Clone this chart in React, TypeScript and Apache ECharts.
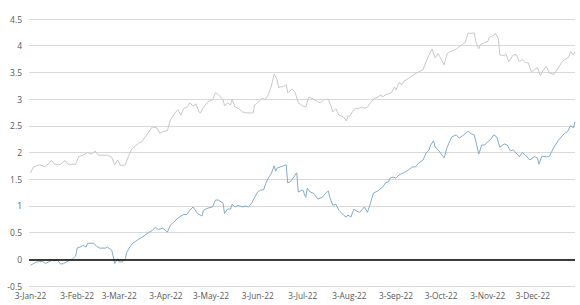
import React, { useEffect, useRef } from "react";
import * as echarts from "echarts";

const xTickDates = [
  "2022-01-03", "2022-02-03", "2022-03-03", "2022-04-03", "2022-05-03", "2022-06-03",
  "2022-07-03", "2022-08-03", "2022-09-03", "2022-10-03", "2022-11-03", "2022-12-03",
];
const xTickLabels = [
  "3-Jan-22", "3-Feb-22", "3-Mar-22", "3-Apr-22", "3-May-22", "3-Jun-22",
  "3-Jul-22", "3-Aug-22", "3-Sep-22", "3-Oct-22", "3-Nov-22", "3-Dec-22",
];

const grayDates = [
  "2022-01-03", "2022-01-05", "2022-01-09", "2022-01-13", "2022-01-15", "2022-01-17", "2022-01-19", "2022-01-23", "2022-01-26", "2022-01-28",
  "2022-02-02", "2022-02-04", "2022-02-07", "2022-02-10", "2022-02-13", "2022-02-15", "2022-02-17", "2022-02-23", "2022-02-26", "2022-02-28",
  "2022-03-02", "2022-03-04", "2022-03-07", "2022-03-09", "2022-03-11", "2022-03-12", "2022-03-16", "2022-03-18", "2022-03-22", "2022-03-25", "2022-03-28", "2022-03-30",
  "2022-04-01", "2022-04-04", "2022-04-06", "2022-04-09", "2022-04-11", "2022-04-13", "2022-04-15", "2022-04-17", "2022-04-19", "2022-04-21", "2022-04-23", "2022-04-25", "2022-04-26", "2022-04-28",
  "2022-05-01", "2022-05-04", "2022-05-06", "2022-05-08", "2022-05-11", "2022-05-12", "2022-05-14", "2022-05-16", "2022-05-17", "2022-05-19", "2022-05-21", "2022-05-24", "2022-05-27", "2022-05-31",
  "2022-06-01", "2022-06-03", "2022-06-06", "2022-06-08", "2022-06-10", "2022-06-12", "2022-06-14", "2022-06-16", "2022-06-17", "2022-06-18", "2022-06-20", "2022-06-22", "2022-06-23", "2022-06-26", "2022-06-28", "2022-06-30",
  "2022-07-03", "2022-07-05", "2022-07-07", "2022-07-10", "2022-07-13", "2022-07-15", "2022-07-17", "2022-07-20", "2022-07-22", "2022-07-23", "2022-07-25", "2022-07-27", "2022-07-30",
  "2022-08-01", "2022-08-02", "2022-08-03", "2022-08-05", "2022-08-07", "2022-08-09", "2022-08-11", "2022-08-13", "2022-08-15", "2022-08-17", "2022-08-19", "2022-08-22", "2022-08-24", "2022-08-25", "2022-08-27", "2022-08-31",
  "2022-09-02", "2022-09-03", "2022-09-05", "2022-09-07", "2022-09-08", "2022-09-12", "2022-09-15", "2022-09-18", "2022-09-21", "2022-09-23", "2022-09-25", "2022-09-27", "2022-09-29",
  "2022-10-01", "2022-10-03", "2022-10-05", "2022-10-07", "2022-10-09", "2022-10-11", "2022-10-13", "2022-10-15", "2022-10-17", "2022-10-19", "2022-10-21", "2022-10-22", "2022-10-25", "2022-10-26", "2022-10-28", "2022-10-29",
  "2022-11-01", "2022-11-03", "2022-11-04", "2022-11-07", "2022-11-08", "2022-11-10", "2022-11-11", "2022-11-14", "2022-11-15", "2022-11-17", "2022-11-20", "2022-11-22", "2022-11-24", "2022-11-26", "2022-11-28", "2022-11-30",
  "2022-12-02", "2022-12-04", "2022-12-06", "2022-12-08", "2022-12-10", "2022-12-12", "2022-12-14", "2022-12-17", "2022-12-20", "2022-12-22", "2022-12-24", "2022-12-27", "2022-12-28", "2022-12-30", "2022-12-31",
];
const grayValues = [
  1.62, 1.73, 1.77, 1.73, 1.8, 1.85, 1.78, 1.78, 1.85, 1.78,
  1.78, 1.92, 1.95, 2.0, 1.97, 2.03, 1.95, 1.95, 1.91, 1.77,
  1.86, 1.75, 1.77, 1.92, 2.05, 2.08, 2.18, 2.2, 2.36, 2.48, 2.46, 2.36,
  2.39, 2.41, 2.61, 2.74, 2.8, 2.7, 2.83, 2.85, 2.93, 2.87, 2.91, 2.76, 2.74, 2.85,
  2.95, 2.99, 3.12, 3.08, 2.99, 2.87, 2.93, 2.89, 3.0, 2.85, 2.83, 2.76, 2.74, 2.74,
  2.89, 2.93, 3.02, 2.99, 3.08, 3.23, 3.47, 3.36, 3.21, 3.23, 3.23, 3.27, 3.12, 3.19, 3.12, 2.93,
  2.87, 2.85, 3.04, 3.0, 2.95, 2.93, 2.99, 3.0, 2.85, 2.76, 2.82, 2.7, 2.67,
  2.59, 2.69, 2.67, 2.76, 2.83, 2.82, 2.85, 2.83, 2.85, 2.93, 3.0, 3.04, 3.08, 3.04, 3.08, 3.12,
  3.23, 3.17, 3.31, 3.27, 3.33, 3.4, 3.46, 3.51, 3.55, 3.7, 3.83, 3.94, 3.77,
  3.85, 3.75, 3.64, 3.85, 3.89, 3.91, 3.94, 3.98, 4.02, 4.06, 4.24, 4.23, 4.24, 4.08, 3.94, 4.02,
  4.06, 4.08, 4.16, 4.19, 4.23, 4.14, 3.83, 3.81, 3.85, 3.7, 3.83, 3.83, 3.7, 3.74, 3.68, 3.68,
  3.51, 3.55, 3.59, 3.44, 3.55, 3.61, 3.49, 3.46, 3.59, 3.68, 3.74, 3.79, 3.89, 3.83, 3.89,
];

const blueDates = [
  "2022-01-03", "2022-01-05", "2022-01-07", "2022-01-11", "2022-01-13", "2022-01-15", "2022-01-17", "2022-01-21", "2022-01-23", "2022-01-25", "2022-01-28", "2022-01-31",
  "2022-02-02", "2022-02-03", "2022-02-05", "2022-02-07", "2022-02-09", "2022-02-10", "2022-02-14", "2022-02-16", "2022-02-18", "2022-02-22", "2022-02-23", "2022-02-25", "2022-02-26", "2022-02-28",
  "2022-03-02", "2022-03-03", "2022-03-05", "2022-03-07", "2022-03-08", "2022-03-10", "2022-03-12", "2022-03-15", "2022-03-18", "2022-03-22", "2022-03-25", "2022-03-27", "2022-03-29",
  "2022-04-01", "2022-04-03", "2022-04-04", "2022-04-06", "2022-04-08", "2022-04-11", "2022-04-13", "2022-04-15", "2022-04-17", "2022-04-19", "2022-04-21", "2022-04-24", "2022-04-27", "2022-04-28",
  "2022-05-01", "2022-05-04", "2022-05-06", "2022-05-08", "2022-05-11", "2022-05-12", "2022-05-14", "2022-05-16", "2022-05-17", "2022-05-19", "2022-05-21", "2022-05-24", "2022-05-26", "2022-05-28", "2022-05-30",
  "2022-06-01", "2022-06-03", "2022-06-05", "2022-06-07", "2022-06-08", "2022-06-10", "2022-06-12", "2022-06-14", "2022-06-15", "2022-06-16", "2022-06-18", "2022-06-20", "2022-06-22", "2022-06-23", "2022-06-25", "2022-06-27", "2022-06-29", "2022-06-30",
  "2022-07-03", "2022-07-05", "2022-07-06", "2022-07-08", "2022-07-10", "2022-07-13", "2022-07-16", "2022-07-17", "2022-07-20", "2022-07-21", "2022-07-23", "2022-07-25", "2022-07-27", "2022-07-30",
  "2022-08-01", "2022-08-02", "2022-08-04", "2022-08-06", "2022-08-08", "2022-08-10", "2022-08-13", "2022-08-15", "2022-08-17", "2022-08-19", "2022-08-22", "2022-08-24", "2022-08-25", "2022-08-27", "2022-08-29", "2022-08-30",
  "2022-09-01", "2022-09-03", "2022-09-05", "2022-09-08", "2022-09-10", "2022-09-12", "2022-09-14", "2022-09-16", "2022-09-18", "2022-09-21", "2022-09-23", "2022-09-25", "2022-09-26", "2022-09-28", "2022-09-29",
  "2022-10-01", "2022-10-05", "2022-10-07", "2022-10-10", "2022-10-13", "2022-10-15", "2022-10-17", "2022-10-19", "2022-10-21", "2022-10-23", "2022-10-25", "2022-10-27", "2022-10-28", "2022-10-30",
  "2022-11-01", "2022-11-03", "2022-11-05", "2022-11-07", "2022-11-09", "2022-11-11", "2022-11-14", "2022-11-16", "2022-11-18", "2022-11-20", "2022-11-24", "2022-11-26", "2022-11-28",
  "2022-12-01", "2022-12-04", "2022-12-06", "2022-12-07", "2022-12-09", "2022-12-12", "2022-12-14", "2022-12-17", "2022-12-20", "2022-12-24", "2022-12-26", "2022-12-28", "2022-12-30", "2022-12-31",
];
const blueValues = [
  -0.11, -0.08, -0.05, -0.04, -0.08, -0.05, -0.02, -0.02, -0.09, -0.08, -0.03, 0.01,
  0.06, 0.21, 0.23, 0.26, 0.23, 0.3, 0.3, 0.24, 0.21, 0.21, 0.23, 0.19, 0.17, -0.08,
  0.01, -0.05, -0.05, 0.01, 0.13, 0.23, 0.3, 0.36, 0.41, 0.49, 0.54, 0.6, 0.56,
  0.58, 0.53, 0.51, 0.64, 0.69, 0.77, 0.81, 0.84, 0.84, 0.92, 0.98, 0.86, 0.81, 0.92,
  0.96, 0.98, 1.11, 1.11, 1.05, 0.86, 0.94, 0.94, 1.03, 0.98, 1.01, 0.98, 1.0, 0.98, 1.05,
  1.16, 1.26, 1.3, 1.3, 1.39, 1.52, 1.6, 1.75, 1.65, 1.71, 1.73, 1.75, 1.77, 1.43, 1.46, 1.54, 1.62, 1.26,
  1.3, 1.16, 1.33, 1.26, 1.24, 1.13, 1.16, 1.2, 1.28, 1.16, 1.01, 1.03, 0.92, 0.83,
  0.79, 0.83, 0.79, 0.94, 0.9, 0.88, 0.98, 0.88, 1.05, 1.24, 1.28, 1.33, 1.35, 1.43, 1.45, 1.52,
  1.54, 1.52, 1.58, 1.62, 1.65, 1.69, 1.73, 1.73, 1.8, 1.86, 1.99, 2.05, 2.14, 2.22, 2.1,
  2.05, 1.9, 2.1, 2.29, 2.33, 2.27, 2.31, 2.35, 2.4, 2.35, 2.33, 2.1, 1.97, 2.14,
  2.14, 2.2, 2.25, 2.33, 2.29, 2.1, 2.16, 2.14, 2.03, 2.05, 1.92, 2.0, 1.95,
  1.86, 1.92, 1.9, 1.78, 1.93, 1.92, 1.93, 2.1, 2.23, 2.36, 2.39, 2.5, 2.46, 2.58,
];

const Y_MIN = -0.5;
const Y_MAX = 4.5;
const Y_STEP = 0.5;
const X_START = "2022-01-02";
const X_END = "2022-12-31";

const FONT = "'Open Sans', 'Noto Sans', sans-serif";

const toTime = (d: string) => Date.UTC(+d.slice(0, 4), +d.slice(5, 7) - 1, +d.slice(8, 10));

export default function App() {
  const ref = useRef<HTMLDivElement>(null);

  useEffect(() => {
    if (!ref.current) return;
    const chart = echarts.init(ref.current, undefined, { renderer: "svg" });
    const tickTimes = xTickDates.map(toTime);
    const zip = (ds: string[], vs: number[]) => ds.map((d, i) => [toTime(d), vs[i]]);

    chart.setOption({
      animation: false,
      backgroundColor: "#ffffff",
      grid: { left: 29, right: 5, top: 19, bottom: 19, containLabel: false },
      xAxis: {
        type: "value",
        min: toTime(X_START),
        max: toTime(X_END),
        axisLine: { show: false },
        axisTick: { show: false },
        splitLine: { show: false },
        axisLabel: { show: false },
      },
      yAxis: {
        type: "value",
        min: Y_MIN,
        max: Y_MAX,
        interval: Y_STEP,
        axisLine: { show: false },
        axisTick: { show: false },
        splitLine: { lineStyle: { color: "#d9d9d9", width: 1 } },
        axisLabel: {
          color: "#595959",
          fontSize: 8.5,
          fontFamily: FONT,
          margin: 7,
          formatter: (v: number) => String(Math.round(v * 10) / 10),
        },
      },
      series: [
        {
          name: "Gray",
          type: "line",
          data: zip(grayDates, grayValues),
          showSymbol: false,
          symbol: "none",
          lineStyle: { color: "#c8c8c8", width: 1 },
          z: 3,
          markLine: {
            silent: true,
            symbol: "none",
            label: { show: false },
            lineStyle: { color: "#000000", width: 1.5, type: "solid" },
            data: [{ yAxis: 0 }],
          },
        },
        {
          name: "Blue",
          type: "line",
          data: zip(blueDates, blueValues),
          showSymbol: false,
          symbol: "none",
          lineStyle: { color: "#82adc9", width: 1 },
          z: 4,
        },
      ],
    });

    // x-axis labels placed through the axis scale
    const baseY = chart.convertToPixel({ yAxisIndex: 0 }, Y_MIN) as number;
    chart.setOption({
      graphic: tickTimes.map((t, i) => ({
        type: "text",
        x: chart.convertToPixel({ xAxisIndex: 0 }, t) as number,
        y: baseY + 5,
        silent: true,
        style: {
          text: xTickLabels[i],
          fill: "#595959",
          fontSize: 8.3,
          fontFamily: FONT,
          align: "center",
          verticalAlign: "top",
        },
      })),
    });
    return () => chart.dispose();
  }, []);

  return (
    <div
      ref={ref}
      style={{ position: "fixed", left: 0, top: 0, width: 580, height: 305, background: "#fff" }}
    />
  );
}
